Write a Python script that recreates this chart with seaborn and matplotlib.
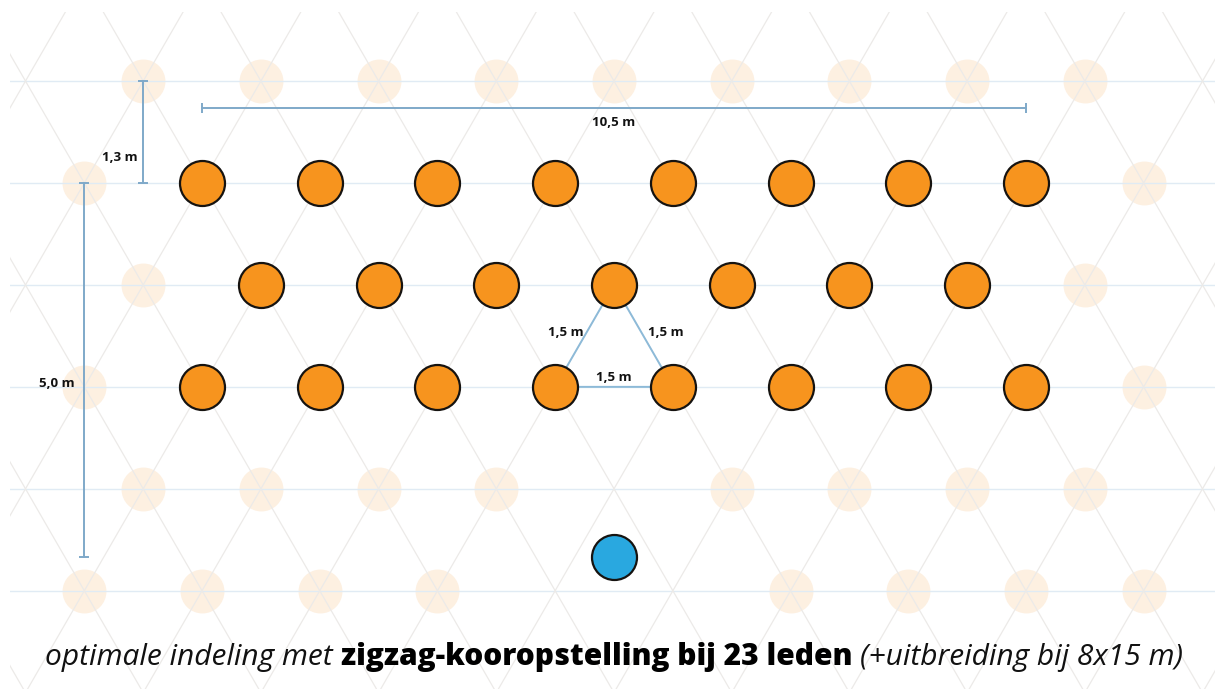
import numpy as np
import pandas as pd
import matplotlib
matplotlib.use("Agg")
import matplotlib.pyplot as plt
import seaborn as sns
from matplotlib.patches import Rectangle

# ---------------- data (metres) ----------------
SPACING = 1.5                           # distance between neighbouring singers
ROW_H = SPACING * np.sqrt(3) / 2        # 1,3 m between rows

# singers: three zigzag rows (8 + 7 + 8 = 23)
row1_x = [-5.25, -3.75, -2.25, -0.75, 0.75, 2.25, 3.75, 5.25]
row2_x = [-4.5, -3.0, -1.5, 0.0, 1.5, 3.0, 4.5]
row3_x = [-5.25, -3.75, -2.25, -0.75, 0.75, 2.25, 3.75, 5.25]
singer_rows = [0, 1, 2]

# conductor
conductor_x = [0.0]
conductor_y = [4.77]

# free lattice spots (extension to 8x15 m), per row index
spare_row_m1 = [-6.0, -4.5, -3.0, -1.5, 0.0, 1.5, 3.0, 4.5, 6.0]
spare_row_0 = [-6.75, 6.75]
spare_row_1 = [-6.0, 6.0]
spare_row_2 = [-6.75, 6.75]
spare_row_3 = [-6.0, -4.5, -3.0, -1.5, 1.5, 3.0, 4.5, 6.0]
spare_row_4 = [-6.75, -5.25, -3.75, -2.25, 2.25, 3.75, 5.25, 6.75]
spare_rows = [-1, 0, 1, 2, 3, 4]

grid_rows = [-1, 0, 1, 2, 3, 4]

# dimension labels
label_width = "10,5 m"
label_rowgap = "1,3 m"
label_depth = "5,0 m"
label_side = "1,5 m"

caption_parts = ["optimale indeling met", "zigzag-kooropstelling bij 23 leden", "(+uitbreiding bij 8x15 m)"]

# ---------------- build tables ----------------
singers = pd.DataFrame({
    "x": row1_x + row2_x + row3_x,
    "y": [r * ROW_H for r, xs in zip(singer_rows, [row1_x, row2_x, row3_x]) for _ in xs],
})
spare_lists = [spare_row_m1, spare_row_0, spare_row_1, spare_row_2, spare_row_3, spare_row_4]
spares = pd.DataFrame({
    "x": [x for xs in spare_lists for x in xs],
    "y": [r * ROW_H for r, xs in zip(spare_rows, spare_lists) for _ in xs],
})
conductor = pd.DataFrame({"x": conductor_x, "y": conductor_y})

# ---------------- figure ----------------
sns.set_theme(style="white")
plt.rcParams["font.family"] = ["Open Sans", "DejaVu Sans"]

W, H, DPI = 1215, 689, 100
fig = plt.figure(figsize=(W / DPI, H / DPI), dpi=DPI)
ax = fig.add_axes([0, 0, 1, 1])
PX = 117.7 / SPACING                    # pixels per metre
x0_px, y0_px = 614, 183                 # pixel position of (0, 0)
ax.set_xlim(-x0_px / PX, (W - x0_px) / PX)
ax.set_ylim((H - y0_px) / PX, -y0_px / PX)
ax.set_axis_off()

# clip area for the background lattice
clip = Rectangle(((10 - x0_px) / PX, (12 - y0_px) / PX), 30, 30,
                 transform=ax.transData, fill=False, visible=False)
ax.add_patch(clip)

# faint free spots
sns.scatterplot(data=spares, x="x", y="y", s=1000, color="#FDF0E1",
                linewidth=0, ax=ax, zorder=1, legend=False)

# lattice lines
ytop, ybot = ax.get_ylim()[1], ax.get_ylim()[0]
for r in grid_rows:
    ln, = ax.plot([-20, 20], [r * ROW_H, r * ROW_H], color="#E0EBF4", lw=1.0, zorder=2)
    ln.set_clip_path(clip)
for j in range(-16, 17):
    xb = SPACING / 2 + j * SPACING
    for sgn in (1, -1):
        ys = np.array([ytop - 1, ybot + 1])
        xs = xb + sgn * ys / np.sqrt(3)
        ln, = ax.plot(xs, ys, color="#ECEAE8", lw=0.9, zorder=2)
        ln.set_clip_path(clip)

# dimension lines
DIM = "#7FA9C9"
ydim = (108 - y0_px) / PX
ax.plot([row1_x[0], row1_x[-1]], [ydim, ydim], color=DIM, lw=1.4, zorder=3)
ax.plot([row1_x[0], row1_x[-1]], [ydim, ydim], ls="none", marker="|", ms=7, mew=1.4, color=DIM, zorder=3)
ax.text(0, ydim + 0.18, label_width, ha="center", va="center", fontsize=9.5, weight="bold", color="#111111", zorder=5)

xg = spare_row_m1[0]
ax.plot([xg, xg], [-ROW_H, 0], color=DIM, lw=1.4, zorder=3)
ax.plot([xg, xg], [-ROW_H, 0], ls="none", marker="_", ms=7, mew=1.4, color=DIM, zorder=3)
ax.text(xg - 0.07, -0.32, label_rowgap, ha="right", va="center", fontsize=9.5, weight="bold", color="#111111", zorder=5)

xd = spare_row_0[0]
ax.plot([xd, xd], [0, conductor_y[0]], color=DIM, lw=1.4, zorder=3)
ax.plot([xd, xd], [0, conductor_y[0]], ls="none", marker="_", ms=7, mew=1.4, color=DIM, zorder=3)
ax.text(xd - 0.13, 2.55, label_depth, ha="right", va="center", fontsize=9.5, weight="bold", color="#111111", zorder=5)

# triangle showing 1,5 m spacing
tri_x = [row2_x[3], row3_x[3], row3_x[4], row2_x[3]]
tri_y = [ROW_H, 2 * ROW_H, 2 * ROW_H, ROW_H]
ax.plot(tri_x, tri_y, color="#8DBAD8", lw=1.4, zorder=3)
ax.text(-0.62, 1.90, label_side, ha="center", va="center", fontsize=9.5, weight="bold", color="#111111", zorder=5)
ax.text(0.66, 1.90, label_side, ha="center", va="center", fontsize=9.5, weight="bold", color="#111111", zorder=5)
ax.text(0.0, 2.485, label_side, ha="center", va="center", fontsize=9.5, weight="bold", color="#111111", zorder=5)

# singers and conductor
sns.scatterplot(data=singers, x="x", y="y", s=1050, color="#F7941E",
                edgecolor="#161310", linewidth=1.6, ax=ax, zorder=4, legend=False)
sns.scatterplot(data=conductor, x="x", y="y", s=1050, color="#29A8E0",
                edgecolor="#161310", linewidth=1.6, ax=ax, zorder=4, legend=False)

# caption with mixed styles
fs = 21.5
styles = [dict(style="italic", weight="normal", color="#111111"),
          dict(style="normal", weight="heavy", color="#000000"),
          dict(style="italic", weight="normal", color="#111111")]
base_y = 1 - 665 / H
texts = [fig.text(0, base_y, t, fontsize=fs, va="baseline", ha="left", **st)
         for t, st in zip(caption_parts, styles)]
fig.canvas.draw()
rend = fig.canvas.get_renderer()
widths = [t.get_window_extent(rend).width for t in texts]
gap = fs * DPI / 72 * 0.26
total = sum(widths) + 2 * gap
x = (614 - total / 2)
for t, w in zip(texts, widths):
    t.set_x(x / W)
    x += w + gap

fig.savefig("out.png", dpi=DPI)
